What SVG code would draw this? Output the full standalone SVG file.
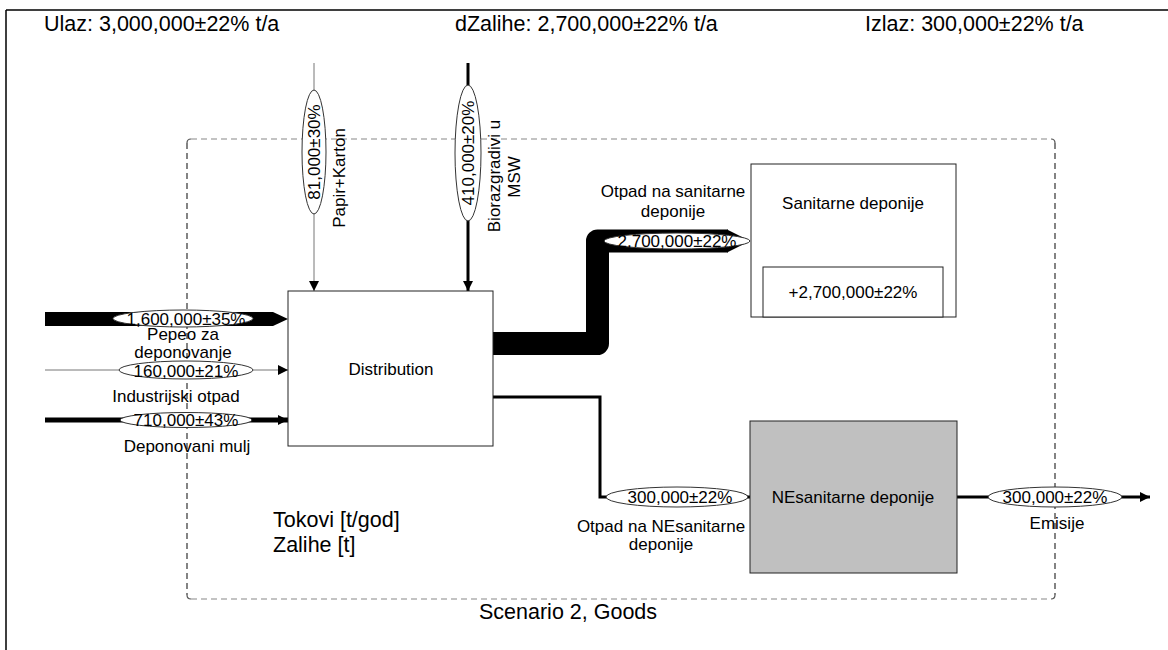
<svg xmlns="http://www.w3.org/2000/svg" width="1168" height="650" viewBox="0 0 1168 650">
<style>
text{font-family:"Liberation Sans",Arial,sans-serif;fill:#000}
.t17{font-size:17px}
.big{font-size:21.5px}
.c{text-anchor:middle}
.lbl{fill:#fff;stroke:#333;stroke-width:1}
.box{fill:#fff;stroke:#222;stroke-width:1}
</style>
<defs>
<marker id="ah" viewBox="0 0 10 10" refX="10" refY="5" markerWidth="10" markerHeight="10" markerUnits="userSpaceOnUse" orient="auto">
<path d="M0,0 L10,5 L0,10 z" fill="#000"/>
</marker>
</defs>
<rect x="0" y="0" width="1168" height="650" fill="#fff"/>
<path d="M6,10 H1168 M6,10 V650" stroke="#000" stroke-width="1.5" fill="none"/>
<text class="big" x="44" y="31">Ulaz: 3,000,000±22% t/a</text>
<text class="big" x="455" y="31">dZalihe: 2,700,000±22% t/a</text>
<text class="big" x="865" y="31">Izlaz: 300,000±22% t/a</text>
<g id="boundary" fill="none" stroke-width="1.2" stroke-dasharray="6 4">
<path d="M191,139 H1051 M191,599 H1051" stroke="#888"/>
<path d="M187,143 V595 M1055,143 V595" stroke="#333"/>
<path d="M187,143 Q187,139 191,139 M1051,139 Q1055,139 1055,143 M187,595 Q187,599 191,599 M1055,595 Q1055,599 1051,599" stroke="#555" stroke-dasharray="none"/>
</g>
<g id="connectors">
<path d="M314,63 V291" stroke="#777" stroke-width="1" fill="none" marker-end="url(#ah)"/>
<path d="M468,63 V291" stroke="#000" stroke-width="3" fill="none" marker-end="url(#ah)"/>
<polygon points="45,312 273,312 288,319 273,326 45,326" fill="#000"/>
<path d="M45,370 H288" stroke="#777" stroke-width="1" fill="none" marker-end="url(#ah)"/>
<path d="M45,420 H288" stroke="#000" stroke-width="5" fill="none" marker-end="url(#ah)"/>
<path d="M493,343.5 H597.5 V241 H728" stroke="#000" stroke-width="23" stroke-linejoin="round" fill="none"/>
<polygon points="727,229.5 750,241 727,252.5" fill="#000"/>
<path d="M493,397 H600 V497 H750" stroke="#000" stroke-width="3" fill="none" marker-end="url(#ah)"/>
<path d="M957,497 H1150" stroke="#000" stroke-width="3" fill="none" marker-end="url(#ah)"/>
<ellipse class="lbl" cx="314" cy="152" rx="12" ry="62"/>
<text class="t17 c" transform="translate(314,152) rotate(-90)" y="6">81,000±30%</text>
<text class="t17 c" transform="translate(339,178) rotate(-90)" y="6">Papir+Karton</text>
<ellipse class="lbl" cx="468" cy="153" rx="13" ry="68"/>
<text class="t17 c" transform="translate(468,153) rotate(-90)" y="6">410,000±20%</text>
<text class="t17 c" transform="translate(494,176) rotate(-90)" y="6">Biorazgradivi u</text>
<text class="t17 c" transform="translate(514,177) rotate(-90)" y="6">MSW</text>
<ellipse class="lbl" cx="183" cy="318.5" rx="70" ry="8.5"/>
<text class="t17 c" x="186" y="324.5">1,600,000±35%</text>
<text class="t17 c" x="183" y="340">Pepeo za</text>
<text class="t17 c" x="183" y="358">deponovanje</text>
<ellipse class="lbl" cx="186" cy="370" rx="67" ry="9"/>
<text class="t17 c" x="186" y="377">160,000±21%</text>
<text class="t17 c" x="176" y="402">Industrijski otpad</text>
<ellipse class="lbl" cx="186" cy="420" rx="66" ry="7.5"/>
<text class="t17 c" x="186" y="426">710,000±43%</text>
<text class="t17 c" x="187" y="452">Deponovani mulj</text>
<ellipse class="lbl" cx="677" cy="241" rx="73" ry="8"/>
<text class="t17 c" x="677" y="247">2,700,000±22%</text>
<text class="t17 c" x="673" y="197">Otpad na sanitarne</text>
<text class="t17 c" x="673" y="217">deponije</text>
<ellipse class="lbl" cx="677" cy="497" rx="71" ry="10"/>
<text class="t17 c" x="680" y="503">300,000±22%</text>
<text class="t17 c" x="661" y="532">Otpad na NEsanitarne</text>
<text class="t17 c" x="661" y="550">deponije</text>
<ellipse class="lbl" cx="1055" cy="497" rx="67" ry="10"/>
<text class="t17 c" x="1055" y="503">300,000±22%</text>
<text class="t17 c" x="1057" y="529">Emisije</text>
</g>
<g id="distribution">
<rect class="box" x="288" y="291" width="205" height="155"/>
<text class="t17 c" x="391" y="375">Distribution</text>
</g>
<g id="sanitarne">
<rect class="box" x="751" y="164" width="205" height="153"/>
<text class="t17 c" x="853" y="209">Sanitarne deponije</text>
<rect class="box" x="763" y="267" width="180" height="50"/>
<text class="t17 c" x="853" y="298">+2,700,000±22%</text>
</g>
<g id="nesanitarne">
<rect x="750" y="421" width="207" height="152" fill="#c0c0c0" stroke="#222" stroke-width="1"/>
<text class="t17 c" x="853" y="503">NEsanitarne deponije</text>
</g>
<g id="legend">
<text class="big" x="273" y="527">Tokovi [t/god]</text>
<text class="big" x="273" y="552">Zalihe [t]</text>
<text class="big" x="479" y="619">Scenario 2, Goods</text>
</g>
</svg>
